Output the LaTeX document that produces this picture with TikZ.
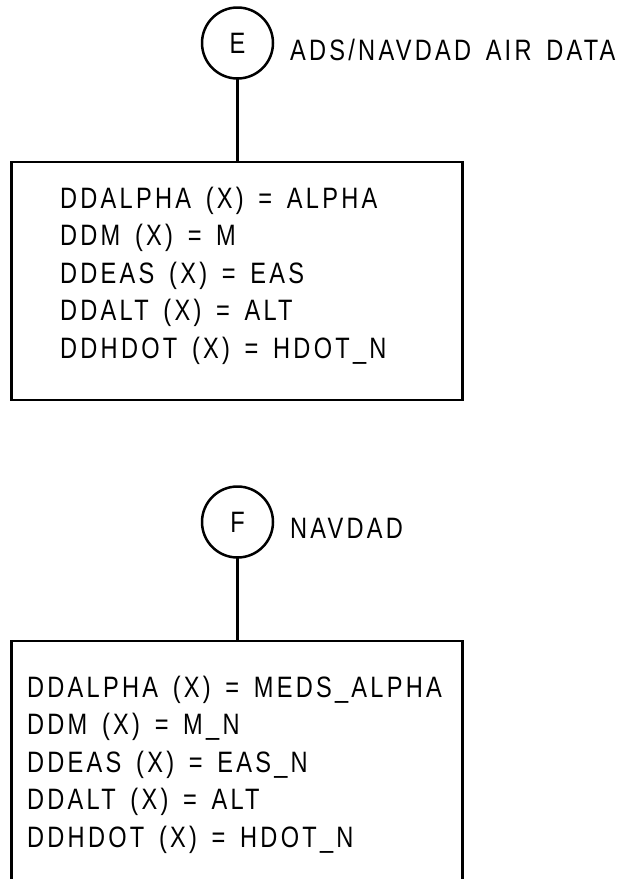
\documentclass[tikz,border=0pt]{standalone}
\usepackage{fontspec}
\setmainfont{Liberation Sans}[FakeStretch=0.8,LetterSpace=11,WordSpace=1.5]
\usetikzlibrary{positioning}

\tikzset{
  conn/.style={circle, draw, line width=2.5pt, minimum size=71pt, inner sep=0pt, outer sep=0pt},
  databox/.style={draw, line width=2.5pt, anchor=north west, minimum width=451pt, inner sep=0pt, outer sep=0pt},
  listing/.style={anchor=north west, align=left, inner sep=0pt, font=\fontsize{29.5}{37.6}\selectfont},
  wire/.style={line width=2.5pt},
}

\begin{document}
\begin{tikzpicture}[x=1pt, y=-1pt, font=\fontsize{29.5}{36}\selectfont]
\useasboundingbox (0,0) rectangle (631,879);
\clip (0,0) rectangle (631,879);
% ADS/NAVDAD air data
\node[conn] (conE) at (237.5,43) {E};
\node[anchor=base west, inner sep=0pt] (labE) at (290,60) {ADS/NAVDAD AIR DATA};
\node[databox, minimum height=238pt] (boxE) at (11.7,162) {};
\node[listing] (listE) at (60,186.5) {DDALPHA (X) = ALPHA\\DDM (X) = M\\DDEAS (X) = EAS\\DDALT (X) = ALT\\DDHDOT (X) = HDOT\_N};
\draw[wire] (conE.south) -- (conE.south |- boxE.north);
% NAVDAD
\node[conn] (conF) at (237.5,522) {F};
\node[anchor=base west, inner sep=0pt] (labF) at (290,538) {NAVDAD};
\node[databox, minimum height=280pt] (boxF) at (11.7,641) {};
\node[listing] (listF) at (27,675.5) {DDALPHA (X) = MEDS\_ALPHA\\DDM (X) = M\_N\\DDEAS (X) = EAS\_N\\DDALT (X) = ALT\\DDHDOT (X) = HDOT\_N};
\draw[wire] (conF.south) -- (conF.south |- boxF.north);
\end{tikzpicture}
\end{document}
